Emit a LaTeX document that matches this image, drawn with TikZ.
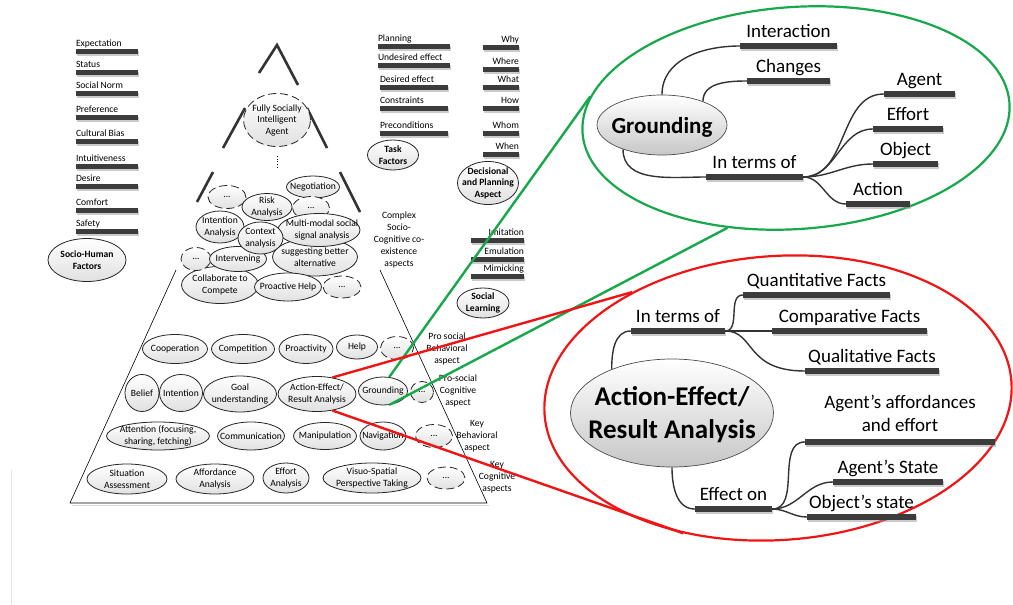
\documentclass[tikz,border=0pt]{standalone}
\usepackage{fontspec}
\setmainfont{Carlito}
\usetikzlibrary{shapes.geometric,shadows,calc}
\definecolor{barc}{HTML}{3C3C3C}
\definecolor{grn}{HTML}{17A84B}
\definecolor{rd}{HTML}{F01414}
\definecolor{conc}{HTML}{333333}
\begin{document}
\begin{tikzpicture}[x=1pt,y=-1pt,
  sm/.style={font=\fontsize{9.6}{11.5}\selectfont},
  smb/.style={font=\bfseries\fontsize{9.6}{11.5}\selectfont},
  side/.style={font=\fontsize{9.6}{12}\selectfont, align=center, inner sep=0pt},
  pe/.style={ellipse, draw=black!85, line width=0.8pt, inner sep=0pt, top color=white, bottom color=black!12},
  pd/.style={pe, dash pattern=on 8pt off 4pt},
  lb/.style={sm, align=center, inner sep=0pt},
  barS/.style={rectangle, fill=barc, inner sep=0pt, minimum height=5pt,
    drop shadow={shadow xshift=1.2pt, shadow yshift=-2pt, fill=black!40, opacity=0.5}},
  barM/.style={barS, minimum height=6pt},
  mmt/.style={font=\fontsize{19}{23}\selectfont, inner sep=0pt, align=center},
  conn/.style={draw=conc, line width=1.4pt},
  pyrl/.style={draw=black!80, line width=2.6pt},
  bigel/.style={ellipse, draw=black!70, line width=0.7pt, inner sep=0pt, top color=white, bottom color=black!22},
]
\fill[white] (0,0) rectangle (1013,605);
\useasboundingbox (0,0) rectangle (1013,605);

% faint page artefact
\draw[black!10, line width=0.8pt] (11,470) -- (11,605);

% ---------- Socio-Human factors ----------
\foreach \t/\y [count=\i] in {Expectation/51,Status/72,Social Norm/93,Preference/117,Cultural Bias/141,Intuitiveness/166,Desire/186,Comfort/210,Safety/231}{
  \node[barS, minimum width=62pt] (sh\i) at (107,\y) {};
  \node[sm, inner sep=0pt, anchor=base west] (sht\i) at ([yshift=1.5pt]sh\i.north west) {\t};
}
\node[pe, minimum width=78pt, minimum height=43pt, label={[lb,smb]center:{Socio-Human\\Factors}}] (shf) at (87,260) {};

% ---------- Task factors ----------
\foreach \t/\y/\w [count=\i] in {Planning/46/72,Undesired effect/65/72,Desired effect/87/68,Constraints/108/68,Preconditions/133/68}{
  \node[barS, minimum width=\w pt] (tf\i) at (414,\y) {};
  \node[sm, inner sep=0pt, anchor=base west] (tft\i) at ([yshift=2pt]tf\i.north west) {\t};
}
\node[pe, minimum width=51pt, minimum height=30pt, label={[lb,smb]center:{Task\\Factors}}] (tfe) at (393,155) {};

% ---------- Decisional ----------
\foreach \t/\y [count=\i] in {Why/47,Where/69,What/87,How/108,Whom/133,When/154}{
  \node[barS, minimum width=36pt] (dp\i) at (501,\y) {};
  \node[sm, inner sep=0pt, anchor=base east] (dpt\i) at ([yshift=1.5pt]dp\i.north east) {\t};
}
\node[pe, minimum width=61pt, minimum height=43pt, label={[lb,smb]center:{Decisional\\and Planning\\Aspect}}] (dpe) at (488,183) {};

% ---------- Social learning ----------
\foreach \t/\y [count=\i] in {Imitation/240,Emulation/259,Mimicking/276}{
  \node[barS, minimum width=53pt] (sl\i) at (497.5,\y) {};
  \node[sm, inner sep=0pt, anchor=base east] (slt\i) at ([yshift=1.5pt]sl\i.north east) {\t};
}
\node[pe, minimum width=52pt, minimum height=30pt, label={[lb,smb]center:{Social\\Learning}}] (sle) at (483,303) {};

% ---------- Pyramid outline ----------
\draw[pyrl] (259,73) -- (277,45) -- (298,85);
\draw[pyrl] (245,108) -- (223,148);
\draw[pyrl] (307,108) -- (327,148);
\draw[pyrl] (213,172) -- (197,202);
\draw[pyrl] (340,172) -- (360,212);
\draw[black!15, line width=1.5pt] (72,505.5) -- (489,505.5);
\draw[black, line width=0.6pt] (176,270) -- (70,503) -- (487,503) -- (380,270);

\node[pd, minimum width=67pt, minimum height=53pt, label={[lb]center:{Fully Socially\\Intelligent\\Agent}}] (fsa) at (277,120) {};
\draw[dotted, line width=0.7pt] (277,156) -- (277,169);

% top cluster
\node[pd, minimum width=38pt, minimum height=23pt, label={[lb]center:{...}}] (d1) at (227,197) {};
\node[pe, minimum width=53pt, minimum height=22pt, label={[lb]center:{Negotiation}}] (neg) at (313,187) {};
\node[pd, minimum width=37pt, minimum height=23pt, label={[lb]center:{...}}] (d2) at (311,208) {};
\node[pe, minimum width=50pt, minimum height=27pt, label={[lb]center:{Risk\\Analysis}}] (risk) at (267,207) {};
\node[pe, minimum width=48pt, minimum height=32pt, label={[lb]center:{Intention\\Analysis}}] (inta) at (220,227) {};
\node[pe, minimum width=85pt, minimum height=38pt, label={[lb]center:{suggesting better\\alternative}}] (sug) at (315,257) {};
\node[pe, minimum width=77pt, minimum height=37pt, label={[lb]center:{Collaborate to\\Compete}}] (col) at (220,285) {};
\node[pd, minimum width=30pt, minimum height=23pt, label={[lb]center:{...}}] (d3) at (196,259) {};
\node[pe, minimum width=57pt, minimum height=25pt, label={[lb]center:{Intervening}}] (intv) at (238,259) {};
\node[pe, minimum width=82pt, minimum height=33pt, label={[lb,xshift=3pt]center:{Multi-modal social\\signal analysis}}] (mms) at (319,230) {};
\node[pe, minimum width=45pt, minimum height=32pt, label={[lb]center:{Context\\analysis}}] (ctx) at (260.5,238) {};
\node[pe, minimum width=67pt, minimum height=28pt, label={[lb]center:{Proactive Help}}] (pro) at (288,287) {};
\node[pd, minimum width=38pt, minimum height=22pt, label={[lb]center:{...}}] (d4) at (342,287) {};

\node[side] (cx) at (399,240) {Complex\\Socio-\\Cognitive co-\\existence\\aspects};

% row 1
\node[pe, minimum width=65pt, minimum height=29pt, label={[lb]center:{Cooperation}}] (coop) at (175,349) {};
\node[pe, minimum width=63pt, minimum height=29pt, label={[lb]center:{Competition}}] (comp) at (243,349) {};
\node[pe, minimum width=54pt, minimum height=29pt, label={[lb]center:{Proactivity}}] (proa) at (306,349) {};
\node[pe, minimum width=41pt, minimum height=24pt, label={[lb]center:{Help}}] (help) at (357,347) {};
\node[pd, minimum width=33pt, minimum height=23pt, label={[lb]center:{...}}] (d5) at (397,348) {};
\node[side] (psb) at (447,349) {Pro social\\Behavioral\\aspect};

% row 2
\node[pe, minimum width=34pt, minimum height=37pt, label={[lb]center:{Belief}}] (bel) at (142,393) {};
\node[pe, minimum width=43pt, minimum height=37pt, label={[lb]center:{Intention}}] (inten) at (181,393) {};
\node[pe, minimum width=73pt, minimum height=36pt, label={[lb]center:{Goal\\understanding}}] (goal) at (240,394) {};
\node[pe, minimum width=78pt, minimum height=35pt, label={[lb]center:{Action-Effect/\\Result Analysis}}] (ae) at (317,394) {};
\node[pe, minimum width=49pt, minimum height=28pt, label={[lb]center:{Grounding}}] (grd) at (383,391) {};
\node[pd, minimum width=23pt, minimum height=21pt, label={[lb]center:{...}}] (d6) at (422,392) {};
\node[side] (psc) at (458,391) {Pro-social\\Cognitive\\aspect};

% row 3
\node[pe, minimum width=103pt, minimum height=28pt, label={[lb]center:{Attention (focusing,\\sharing, fetching)}}] (att) at (158,436) {};
\node[pe, minimum width=67pt, minimum height=28pt, label={[lb]center:{Communication}}] (comm) at (251,436) {};
\node[pe, minimum width=63pt, minimum height=27pt, label={[lb]center:{Manipulation}}] (man) at (325,436) {};
\node[pe, minimum width=46pt, minimum height=28pt, label={[lb]center:{Navigation}}] (nav) at (383,436) {};
\node[pd, minimum width=37pt, minimum height=23pt, label={[lb]center:{...}}] (d7) at (434,436) {};
\node[side] (kb) at (477,436) {Key\\Behavioral\\aspect};

% row 4
\node[pe, minimum width=80pt, minimum height=30pt, label={[lb]center:{Situation\\Assessment}}] (sit) at (127,479) {};
\node[pe, minimum width=78pt, minimum height=30pt, label={[lb]center:{Affordance\\Analysis}}] (aff) at (215,479) {};
\node[pe, minimum width=46pt, minimum height=30pt, label={[lb]center:{Effort\\Analysis}}] (eff) at (286,478) {};
\node[pe, minimum width=98pt, minimum height=30pt, label={[lb]center:{Visuo-Spatial\\Perspective Taking}}] (vis) at (372,478) {};
\node[pd, minimum width=38pt, minimum height=22pt, label={[lb]center:{...}}] (d8) at (446,478) {};
\node[side] (kc) at (497,477) {Key\\Cognitive\\aspects};

% ---------- Grounding mind map ----------
\node[ellipse, draw=grn, line width=2.2pt, minimum width=428pt, minimum height=222pt, rotate=4, inner sep=0pt] (gE) at (796,118) {};
\node[bigel, minimum width=130pt, minimum height=60pt,
  label={[inner sep=0pt, yshift=-2.5pt, font=\bfseries\fontsize{23}{27}\selectfont]center:{Grounding}}] (G) at (662,125) {};
\node[barM, minimum width=97pt] (bInt) at (788.5,46) {};
\node[barM, minimum width=83pt] (bCh) at (788.5,81) {};
\node[barM, minimum width=97pt] (bGit) at (754.5,177) {};
\node[barM, minimum width=71pt] (bAg) at (919.5,94) {};
\node[barM, minimum width=70pt] (bEf) at (908,129) {};
\node[barM, minimum width=65pt] (bOb) at (905.5,164) {};
\node[barM, minimum width=64pt] (bAc) at (878,204) {};
\node[mmt, anchor=base] (tInt) at ([yshift=5.5pt]bInt.north) {Interaction};
\node[mmt, anchor=base] (tCh) at ([yshift=5.5pt]bCh.north) {Changes};
\node[mmt, anchor=base] (tGit) at ([yshift=5.5pt]bGit.north) {In terms of};
\node[mmt, anchor=base] (tAg) at ([yshift=5.5pt]bAg.north) {Agent};
\node[mmt, anchor=base] (tEf) at ([yshift=5.5pt]bEf.north) {Effort};
\node[mmt, anchor=base] (tOb) at ([yshift=5.5pt]bOb.north) {Object};
\node[mmt, anchor=base] (tAc) at ([yshift=5.5pt]bAc.north) {Action};
\draw[conn] (G.north) to[out=90,in=180] (bInt.west);
\draw[conn] (G.30) to[out=90,in=180] (bCh.west);
\draw[conn] (G.212) to[out=-90,in=180] (bGit.west);
\draw[conn] (bGit.east) to[out=0,in=180] (bAg.west);
\draw[conn] (bGit.east) to[out=0,in=180] (bEf.west);
\draw[conn] (bGit.east) to[out=0,in=180] (bOb.west);
\draw[conn] (bGit.east) to[out=0,in=180] (bAc.west);

% ---------- Action-Effect mind map ----------
\node[ellipse, draw=rd, line width=2.2pt, minimum width=468pt, minimum height=284pt, rotate=4, inner sep=0pt] (rE) at (778,398) {};
\node[bigel, minimum width=203pt, minimum height=108pt,
  label={[inner sep=0pt, yshift=-2pt, align=center, font=\bfseries\fontsize{27}{33}\selectfont]center:{Action-Effect/\\Result Analysis}}] (AE) at (672,413) {};
\node[barM, minimum width=94pt] (bRit) at (678,331) {};
\node[barM, minimum width=147pt] (bQn) at (816.5,295) {};
\node[barM, minimum width=155pt] (bCp) at (849.5,331) {};
\node[barM, minimum width=134pt] (bQl) at (872,371) {};
\node[barM, minimum width=190pt] (bAf) at (900,442) {};
\node[barM, minimum width=110pt] (bAs) at (888,482) {};
\node[barM, minimum width=109pt] (bOs) at (861.5,517) {};
\node[barM, minimum width=77pt] (bEo) at (733.5,509) {};
\node[mmt, anchor=base] (tRit) at ([yshift=5.5pt]bRit.north) {In terms of};
\node[mmt, anchor=base] (tQn) at ([yshift=5.5pt]bQn.north) {Quantitative Facts};
\node[mmt, anchor=base] (tCp) at ([yshift=5.5pt]bCp.north) {Comparative Facts};
\node[mmt, anchor=base] (tQl) at ([yshift=5.5pt]bQl.north) {Qualitative Facts};
\node[mmt, anchor=south] (tAf) at ([yshift=6.5pt]bAf.north) {Agent’s affordances\\and effort};
\node[mmt, anchor=base] (tAs) at ([yshift=5.5pt]bAs.north) {Agent’s State};
\node[mmt, anchor=base] (tOs) at ([yshift=5.5pt]bOs.north) {Object’s state};
\node[mmt, anchor=base] (tEo) at ([yshift=5.5pt]bEo.north) {Effect on};
\draw[conn] (AE.144) to[out=90,in=180] (bRit.west);
\draw[conn] (AE.south) to[out=-90,in=180] (bEo.west);
\draw[conn] (bRit.east) to[out=0,in=180] (bQn.west);
\draw[conn] (bRit.east) -- (bCp.west);
\draw[conn] (bRit.east) .. controls +(30,0) and +(-60,0) .. (bQl.west);
\draw[conn] (bEo.east) to[out=0,in=180] (bAf.west);
\draw[conn] (bEo.east) to[out=0,in=180] (bAs.west);
\draw[conn] (bEo.east) to[out=0,in=180] (bOs.west);

% ---------- zoom connectors ----------
\draw[grn, line width=2.4pt] (grd.66) -- (gE.170);
\draw[grn, line width=2.4pt] (grd.-66) -- (gE.234);
\draw[rd, line width=2.4pt] (ae.47) -- (rE.140);
\draw[rd, line width=2.4pt] (ae.-47) -- (rE.231);
\end{tikzpicture}
\end{document}
